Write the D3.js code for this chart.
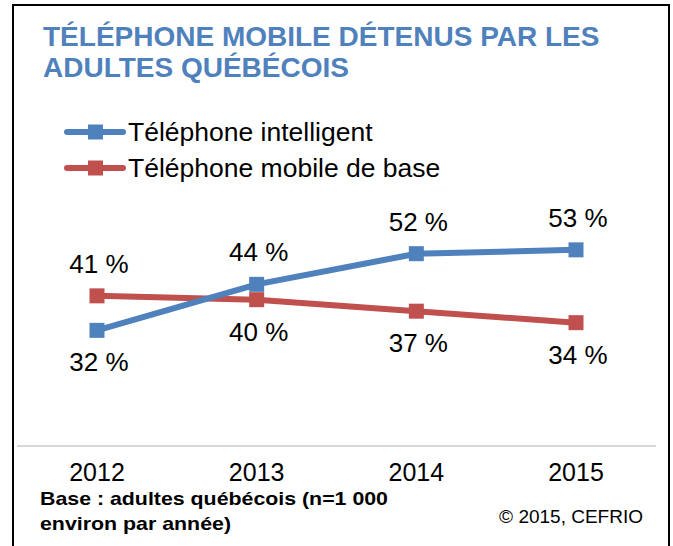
<!DOCTYPE html>
<html>
<head>
<meta charset="utf-8">
<script src="https://cdn.jsdelivr.net/npm/d3@7"></script>
<style>
  body { margin: 0; background: #ffffff; }
</style>
</head>
<body>
<div id="chart"></div>
<script>
let width = 673;
let height = 546;

// data
let years = ["2012", "2013", "2014", "2015"];
let smartphone = [32, 44, 52, 53];
let basicMobile = [41, 40, 37, 34];
let seriesNames = ["Téléphone intelligent", "Téléphone mobile de base"];
// where each value label sits relative to its marker
let smartLabelPos = ["below", "above", "above", "above"];
let basicLabelPos = ["above", "below", "below", "below"];

let colors = ["#4f81bd", "#c0504d"];
let font = "'Liberation Sans', Arial, sans-serif";

let svg = d3.select("#chart")
  .append("svg")
  .attr("width", width)
  .attr("height", height)
  .style("background-color", "#ffffff");

// frame
svg.append("rect")
  .attr("x", 13)
  .attr("y", 5)
  .attr("width", 656)
  .attr("height", 580)
  .attr("fill", "none")
  .attr("stroke", "#000000")
  .attr("stroke-width", 2);

// title
let title = svg.append("text")
  .attr("font-family", font)
  .attr("font-weight", "bold")
  .attr("font-size", 28)
  .attr("fill", "#4f81bd");
title.append("tspan").attr("x", 43).attr("y", 46).text("TÉLÉPHONE MOBILE DÉTENUS PAR LES");
title.append("tspan").attr("x", 43).attr("y", 77).text("ADULTES QUÉBÉCOIS");

let xscale = d3.scalePoint()
  .domain(years)
  .range([97, 576]);

let yscale = d3.scaleLinear()
  .domain([0, 60])
  .range([453, 453 - 60 * 3.833]);

// category axis line
svg.append("line")
  .attr("x1", 17)
  .attr("x2", 656)
  .attr("y1", 446)
  .attr("y2", 446)
  .attr("stroke", "#d9d9d9")
  .attr("stroke-width", 2);

svg.append("g")
  .selectAll("text")
  .data(years)
  .enter()
  .append("text")
  .attr("x", d => xscale(d))
  .attr("y", 481)
  .attr("text-anchor", "middle")
  .attr("font-family", font)
  .attr("font-size", 25)
  .attr("fill", "#000000")
  .text(d => d);

let series = [
  { name: seriesNames[0], values: smartphone, labelPos: smartLabelPos, color: colors[0] },
  { name: seriesNames[1], values: basicMobile, labelPos: basicLabelPos, color: colors[1] }
];

let line = d3.line()
  .x((d, i) => xscale(years[i]))
  .y(d => yscale(d));

// draw red first so blue sits on top at the crossing
[series[1], series[0]].forEach(s => {
  let g = svg.append("g");
  g.append("path")
    .attr("d", line(s.values))
    .attr("fill", "none")
    .attr("stroke", s.color)
    .attr("stroke-width", 6);
  g.selectAll("rect")
    .data(s.values)
    .enter()
    .append("rect")
    .attr("x", (d, i) => xscale(years[i]) - 7.5)
    .attr("y", d => yscale(d) - 7.5)
    .attr("width", 15)
    .attr("height", 15)
    .attr("fill", s.color);
  g.selectAll("text")
    .data(s.values)
    .enter()
    .append("text")
    .attr("x", (d, i) => xscale(years[i]) + 2)
    .attr("y", (d, i) => yscale(d) + (s.labelPos[i] == "above" ? -23 : 41))
    .attr("text-anchor", "middle")
    .attr("font-family", font)
    .attr("font-size", 26)
    .attr("fill", "#000000")
    .text(d => d + " %");
});

// legend
let legend = svg.append("g")
  .selectAll("g")
  .data(series)
  .enter()
  .append("g")
  .attr("transform", (d, i) => `translate(67, ${132 + i * 36})`);

legend.append("line")
  .attr("x1", 0)
  .attr("x2", 56)
  .attr("stroke", d => d.color)
  .attr("stroke-width", 6)
  .attr("stroke-linecap", "round");

legend.append("rect")
  .attr("x", 21)
  .attr("y", -7.5)
  .attr("width", 15)
  .attr("height", 15)
  .attr("fill", d => d.color);

legend.append("text")
  .attr("x", 61)
  .attr("y", 9)
  .attr("font-family", font)
  .attr("font-size", 26.5)
  .attr("fill", "#000000")
  .text(d => d.name);

// footnotes
let note = svg.append("text")
  .attr("font-family", font)
  .attr("font-weight", "bold")
  .attr("font-size", 19)
  .attr("fill", "#000000");
note.append("tspan").attr("x", 40).attr("y", 505)
  .attr("textLength", 348).attr("lengthAdjust", "spacingAndGlyphs")
  .text("Base : adultes québécois (n=1 000");
note.append("tspan").attr("x", 40).attr("y", 530)
  .attr("textLength", 191).attr("lengthAdjust", "spacingAndGlyphs")
  .text("environ par année)");

svg.append("text")
  .attr("x", 643)
  .attr("y", 523)
  .attr("text-anchor", "end")
  .attr("font-family", font)
  .attr("font-size", 19)
  .attr("fill", "#000000")
  .text("© 2015, CEFRIO");
</script>
</body>
</html>
